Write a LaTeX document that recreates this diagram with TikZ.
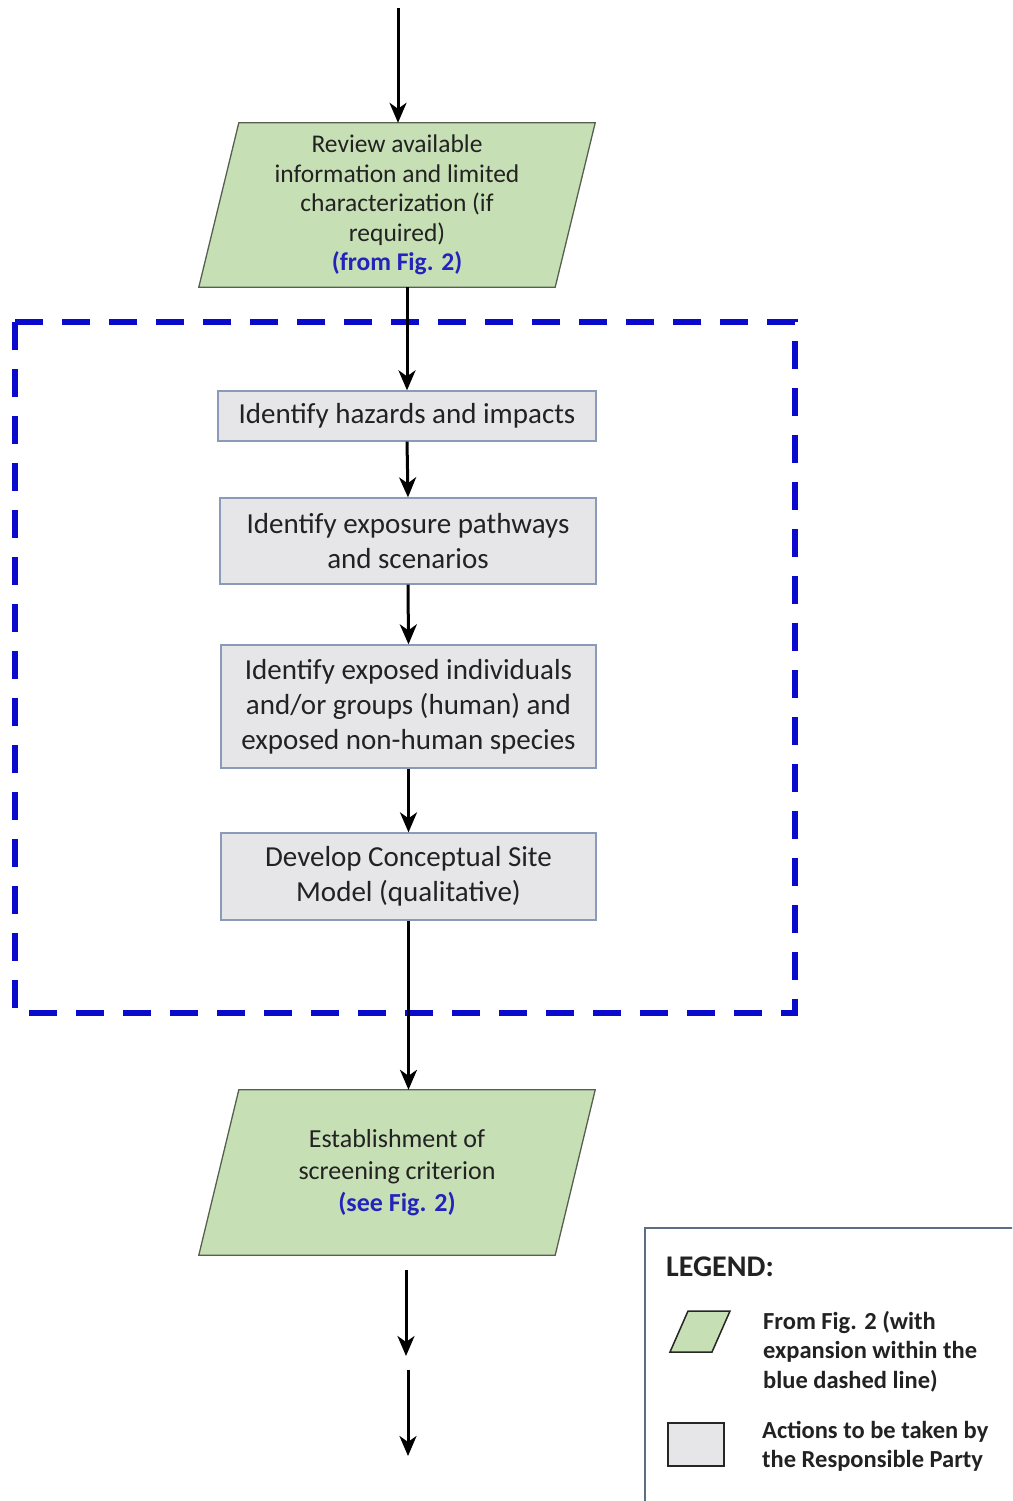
\documentclass[tikz,border=0pt]{standalone}
\usepackage{fontspec}
\setmainfont{Carlito}
\usetikzlibrary{arrows.meta,calc,backgrounds}

\definecolor{fillgreen}{HTML}{C6DFB4}
\definecolor{edgegreen}{HTML}{56604F}
\definecolor{fillgray}{HTML}{E6E6E8}
\definecolor{edgegray}{HTML}{8A9AB8}
\definecolor{dashblue}{HTML}{0A0ACC}
\definecolor{linkblue}{HTML}{2424BB}
\definecolor{ink}{HTML}{222222}
\definecolor{legendedge}{HTML}{5E6E82}

% bold blue cross-reference to another figure
\newcommand\figlink[1]{\textcolor{linkblue}{\bfseries #1}}

\begin{document}
\begin{tikzpicture}[x=1pt,y=-1pt,
  arr/.style={line width=3pt,-{Stealth[length=20pt,width=17pt,inset=6pt]}},
  actbox/.style={draw=edgegray,fill=fillgray,line width=1.3pt,align=center,
    inner sep=0pt,text=ink,font=\fontsize{29}{35}\selectfont},
  paratext/.style={align=center,inner sep=0pt,text=ink,
    font=\fontsize{25.5}{29.5}\selectfont},
  parashape/.style={draw=edgegreen,fill=fillgreen,line width=1.3pt},
  legendtext/.style={anchor=west,align=left,inner sep=0pt,text=ink,
    font=\bfseries\fontsize{24.5}{29.5}\selectfont},
  frame/.style={draw=dashblue,line width=5.5pt,dash pattern=on 28pt off 19pt}
]
\useasboundingbox (0,0) rectangle (1012,1501);
\clip (0,0) rectangle (1012,1501);

% --- flow nodes ---
\node[paratext,minimum width=356pt,minimum height=164pt] (rev) at (397,205)
  {Review available\\information and limited\\characterization (if\\required)\\\figlink{(from Fig. 2)}};
\node[actbox,minimum width=378pt,minimum height=50pt] (b1) at (407,416)
  {Identify hazards and impacts};
\node[actbox,minimum width=376pt,minimum height=86pt] (b2) at (408,541)
  {Identify exposure pathways\\and scenarios};
\node[actbox,minimum width=375pt,minimum height=123pt] (b3) at (408.5,706.5)
  {Identify exposed individuals\\and/or groups (human) and\\exposed non-human species};
\node[actbox,minimum width=375pt,minimum height=87pt] (b4) at (408.5,876.5)
  {Develop Conceptual Site\\Model (qualitative)};
\node[paratext,minimum width=356pt,minimum height=165pt,
  font=\fontsize{26}{32}\selectfont] (crit) at (397,1172.5)
  {Establishment of\\screening criterion\\\figlink{(see Fig. 2)}};

% parallelogram outlines behind the green nodes
\begin{scope}[on background layer]
  \foreach \n in {rev,crit}{
    \path[parashape] ([xshift=20pt]\n.north west) -- ([xshift=20pt]\n.north east)
      -- ([xshift=-20pt]\n.south east) -- ([xshift=-20pt]\n.south west) -- cycle;
  }
\end{scope}

% --- dashed expansion frame ---
\draw[frame] (15,322) rectangle (795,1013);

% --- connectors ---
\coordinate (in) at (398,8);
\draw[arr] (in) -- (in |- rev.north);
\draw[arr] (rev.south -| b1.north) -- (b1.north);
\draw[arr] (b1.south) -- (b2.north);
\draw[arr] (b2.south) -- (b3.north);
\draw[arr] (b3.south) -- (b4.north);
\draw[arr] (b4.south) -- (b4.south |- crit.north);

\coordinate (o1s) at (406,1270);
\coordinate (o1e) at (406,1356);
\coordinate (o2s) at (408,1370);
\coordinate (o2e) at (408,1456);
\draw[arr] (o1s) -- (o1e);
\draw[arr] (o2s) -- (o2e);

% --- legend ---
\draw[draw=legendedge,line width=1.2pt,fill=white] (645,1228) rectangle (1030,1520);
\node[anchor=west,inner sep=0pt,text=ink,font=\bfseries\fontsize{30}{34}\selectfont]
  (legtitle) at (666,1267) {LEGEND:};
\path[draw=black!85,fill=fillgreen,line width=1.5pt]
  (688,1311) -- (730,1311) -- (712,1352) -- (670,1352) -- cycle;
\node[legendtext] (legpara) at (763,1351.5)
  {From Fig. 2 (with\\expansion within the\\blue dashed line)};
\path[draw=black!85,fill=fillgray,line width=1.5pt] (668,1423) rectangle (724,1466);
\node[legendtext] (legbox) at (762,1446.5)
  {Actions to be taken by\\the Responsible Party};
\end{tikzpicture}
\end{document}
